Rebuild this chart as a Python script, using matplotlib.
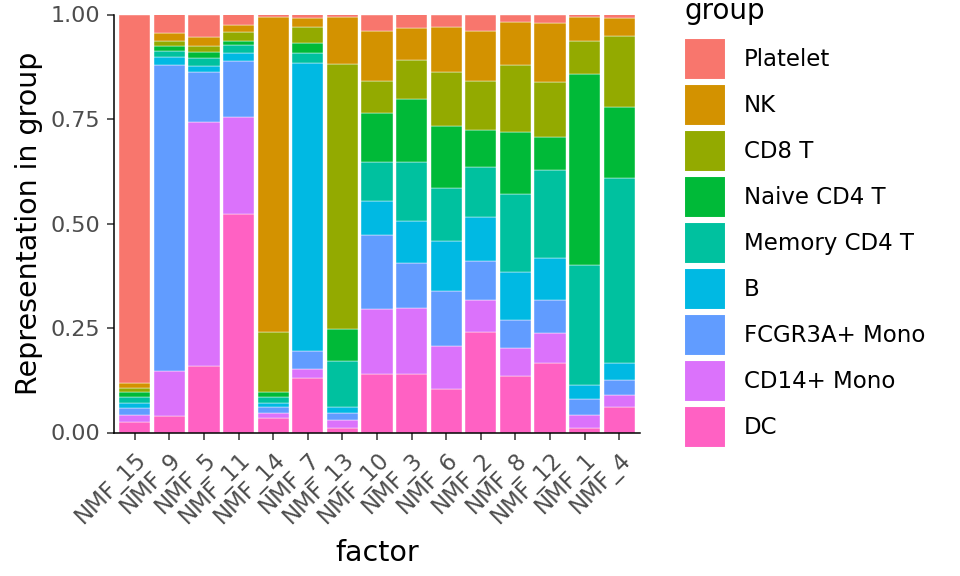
import numpy as np
import matplotlib.pyplot as plt
from matplotlib.patches import Patch

factors = ['NMF_15', 'NMF_9', 'NMF_5', 'NMF_11', 'NMF_14', 'NMF_7', 'NMF_13', 'NMF_10',
           'NMF_3', 'NMF_6', 'NMF_2', 'NMF_8', 'NMF_12', 'NMF_1', 'NMF_4']

# stacking order, bottom to top
groups = ['DC', 'CD14+ Mono', 'FCGR3A+ Mono', 'B', 'Memory CD4 T',
          'Naive CD4 T', 'CD8 T', 'NK', 'Platelet']

dc = [.026, .040, .159, .523, .034, .131, .011, .141, .141, .104, .241, .134, .167, .010, .062]
cd14_mono = [.015, .106, .585, .231, .012, .022, .018, .154, .156, .104, .075, .067, .072, .032, .027]
fcgr3a_mono = [.018, .733, .118, .134, .016, .041, .017, .177, .108, .130, .095, .067, .079, .037, .037]
b_cells = [.012, .019, .014, .019, .009, .689, .016, .083, .101, .119, .104, .117, .100, .035, .041]
memory_cd4 = [.013, .014, .019, .019, .014, .026, .109, .093, .142, .129, .120, .185, .210, .286, .441]
naive_cd4 = [.013, .012, .015, .010, .012, .024, .076, .117, .149, .148, .089, .149, .080, .458, .170]
cd8_t = [.010, .013, .014, .023, .144, .037, .634, .075, .093, .128, .118, .159, .130, .078, .171]
nk = [.012, .018, .021, .015, .754, .022, .112, .120, .078, .109, .118, .103, .141, .057, .042]
platelet = [.881, .045, .055, .026, .005, .008, .007, .040, .032, .029, .040, .019, .021, .007, .009]

series = [dc, cd14_mono, fcgr3a_mono, b_cells, memory_cd4, naive_cd4, cd8_t, nk, platelet]

# ggplot default hue palette, matching the groups above
colors = ['#FF61C3', '#DB72FB', '#619CFF', '#00B9E3', '#00C19F',
          '#00BA38', '#93AA00', '#D39200', '#F8766D']

fig = plt.figure(figsize=(9.6, 5.76), dpi=100)
ax = fig.add_axes([114 / 960, (576 - 432.5) / 576, 526 / 960, 418 / 576])

x = np.arange(len(factors))
bottom = np.zeros(len(factors))
for vals, col in zip(series, colors):
    vals = np.array(vals)
    ax.bar(x, vals, width=0.9, bottom=bottom, color=col, edgecolor='white', linewidth=0.3)
    bottom += vals

ax.set_xlim(-0.6, len(factors) - 0.4)
ax.set_ylim(0, 1)
ax.set_yticks([0, 0.25, 0.5, 0.75, 1.0])
ax.set_yticklabels(['0.00', '0.25', '0.50', '0.75', '1.00'])
ax.set_xticks(x)
ax.set_xticklabels(factors, rotation=45, ha='right', va='top', rotation_mode='anchor')

for side in ['top', 'right']:
    ax.spines[side].set_visible(False)
for side in ['left', 'bottom']:
    ax.spines[side].set_linewidth(1.1)
    ax.spines[side].set_color('black')
ax.tick_params(axis='both', colors='#333333', labelcolor='#4D4D4D', labelsize=16,
               length=5, width=1.1, pad=5)
ax.tick_params(axis='x', labelsize=16.5, pad=6)

ax.set_xlabel('factor', fontsize=20.5, labelpad=8)
ax.set_ylabel('Representation in group', fontsize=20.5, labelpad=5)

# legend title drawn on its own so the gap above the keys can match
fig.text(685 / 960, (576 - 19) / 576, 'group', fontsize=20, ha='left', va='baseline')
handles = [Patch(facecolor=c, edgecolor='white', linewidth=1.5) for c in colors[::-1]]
leg = fig.legend(handles, groups[::-1], loc='upper left', bbox_to_anchor=(684 / 960, (576 - 38) / 576),
                 frameon=False, fontsize=16.5,
                 handlelength=1.85, handleheight=2.45, labelspacing=0.17,
                 handletextpad=0.75, borderaxespad=0, borderpad=0)

fig.savefig('out.png', dpi=100)
